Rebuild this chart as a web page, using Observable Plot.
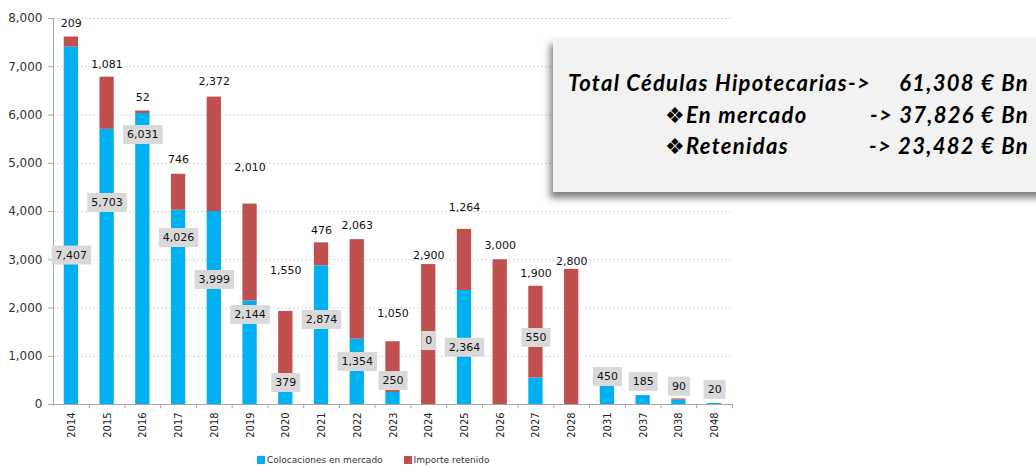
<!DOCTYPE html>
<html><head><meta charset="utf-8">
<script src="https://cdn.jsdelivr.net/npm/d3@7"></script>
<script src="https://cdn.jsdelivr.net/npm/@observablehq/plot@0.6"></script>
<style>
body{margin:0;background:#fff;}
#wrap{position:relative;width:1036px;height:467px;overflow:hidden;background:#fff;}
#box{position:absolute;left:553px;top:38px;width:520px;height:154px;background:#f2f2f2;box-shadow:-3px 6px 7px rgba(0,0,0,0.5);}
.bt{position:absolute;font-family:Lato,"DejaVu Sans",sans-serif;font-weight:bold;font-style:italic;font-size:22px;letter-spacing:1.3px;line-height:22px;white-space:pre;color:#000;}
#legend{position:absolute;left:257px;top:455px;}
</style></head><body><div id="wrap"></div>
<script>
// ---- data ----
const years = ["2014","2015","2016","2017","2018","2019","2020","2021","2022","2023","2024","2025","2026","2027","2028","2031","2037","2038","2048"];
const mercado  = [7407,5703,6031,4026,3999,2144,379,2874,1354,250,0,2364,0,550,0,450,185,90,20];
const retenido = [209,1081,52,746,2372,2010,1550,476,2063,1050,2900,1264,3000,1900,2800,0,0,25,0];
// label anchors (in value units) as placed in the original chart
const mercadoLabelAt  = [3098,4187,5596,3461,2591,1865,456,1762,891,497,1326,1188,null,1389,null,580,477,380,311];
const retenidoLabelAt = [7896,7047,6363,5078,6694,4912,2777,3606,3710,1886,3088,4083,3295,2721,2964,null,null,null,null];
const seriesNames = ["Colocaciones en mercado","Importe retenido"];
const seriesColors = ["#00b0f0","#c0504d"];
const yTicks = [0,1000,2000,3000,4000,5000,6000,7000,8000];
const summaryLines = [
  ["Total Cédulas Hipotecarias->", "61,308 € Bn"],
  ["❖En mercado", "-> 37,826 € Bn"],
  ["❖Retenidas", "-> 23,482 € Bn"]
];

// ---- derived tables ----
const rows = [];
years.forEach((y,i)=>rows.push({year:y, series:seriesNames[0], value:mercado[i]}));
years.forEach((y,i)=>rows.push({year:y, series:seriesNames[1], value:retenido[i]}));
const fmt = d3.format(",");
const blueLabels = years.map((y,i)=>({year:y, v:mercado[i], at:mercadoLabelAt[i]})).filter(d=>d.at!=null);
const redLabels = years.map((y,i)=>({year:y, v:retenido[i], at:retenidoLabelAt[i]})).filter(d=>d.at!=null);

const W = 1036, H = 452, mL = 53, mR = 304, mT = 18, mB = 48;
const step = (W - mL - mR) / years.length;
const axisGray = "#a6a6a6";

const chart = Plot.plot({
  width: W, height: H,
  marginLeft: mL, marginRight: mR, marginTop: mT, marginBottom: mB,
  style: {fontFamily: "DejaVu Sans, sans-serif", color: "#333", background: "#fff"},
  x: {type: "band", domain: years, paddingInner: 0.6, paddingOuter: 0.3, round: false, label: null},
  y: {domain: [0, 8000], label: null},
  color: {domain: seriesNames, range: seriesColors},
  marks: [
    Plot.gridY(yTicks.filter(v=>v>0), {stroke: "#d4d4d4", strokeOpacity: 1, strokeDasharray: "2,2"}),
    Plot.barY(rows, {x: "year", y: "value", fill: "series"}),
    Plot.ruleY([0], {stroke: axisGray}),
    Plot.ruleX([years[0]], {x: d=>d, y1: -40, y2: 8000, dx: -step/2, stroke: axisGray}),
    Plot.ruleX(years, {x: d=>d, y1: 0, y2: -90, dx: step/2, stroke: axisGray}),
    Plot.axisY({ticks: yTicks, tickFormat: fmt, tickSize: 5, tickPadding: 6, stroke: axisGray, fill: "#333", fontSize: 12}),
    Plot.axisX({tickSize: 0, tickRotate: -90, tickPadding: 8, fontSize: 11, fill: "#222",
      fontFamily: "Liberation Sans Narrow, DejaVu Sans Condensed, sans-serif"}),
    Plot.text(blueLabels, {x: "year", y: "at", text: d=>fmt(d.v), fontSize: 11, fill: "#111", ariaDescription: "mercado-labels"}),
    Plot.text(redLabels, {x: "year", y: "at", text: d=>fmt(d.v), fontSize: 11, fill: "#111", ariaDescription: "retenido-labels"})
  ]
});

const wrap = document.getElementById("wrap");
wrap.appendChild(chart);

// gray label backgrounds for the "en mercado" labels
let g = d3.select(chart).select('g[aria-description="mercado-labels"]');
if (g.empty()) g = d3.select(d3.select(chart).selectAll('g[aria-label="text"]').nodes()[0]);
g.selectAll("text").each(function(){
  const b = this.getBBox();
  const t = this.getAttribute("transform");
  const r = d3.select(this.parentNode).insert("rect", () => this)
    .attr("x", b.x - 4).attr("y", b.y - 3).attr("width", b.width + 8).attr("height", b.height + 6)
    .attr("fill", "#d9d9d9");
  if (t) r.attr("transform", t);
});

// legend below the chart
const legend = Plot.legend({legend: "swatches", color: {domain: seriesNames, range: seriesColors}, swatchSize: 8,
  style: {fontFamily: "DejaVu Sans, sans-serif", fontSize: "9px", color: "#333"}});
const ld = document.createElement("div");
ld.id = "legend";
ld.appendChild(legend);
wrap.appendChild(ld);
d3.select(legend).style("margin", "0").style("min-height", "0");
d3.select(legend).selectAll(":scope > span").style("margin-right", "21px").style("margin-left", "0");
d3.select(legend).selectAll("span > svg").style("margin-right", "2px");

// summary box
const box = document.createElement("div");
box.id = "box";
wrap.appendChild(box);
const tops = [72, 104, 135];
const lefts = [568, 665, 665];
summaryLines.forEach((ln, i) => {
  const a = document.createElement("span");
  a.className = "bt"; a.textContent = ln[0];
  a.style.left = lefts[i] + "px"; a.style.top = tops[i] + "px";
  wrap.appendChild(a);
  const b = document.createElement("span");
  b.className = "bt"; b.textContent = ln[1];
  b.style.right = "7px"; b.style.top = tops[i] + "px";
  wrap.appendChild(b);
});
</script></body></html>
